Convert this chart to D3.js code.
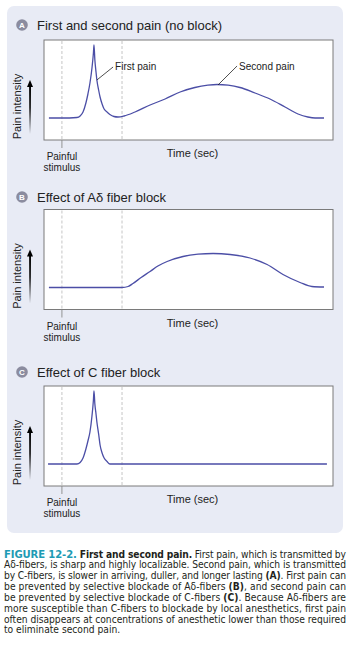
<!DOCTYPE html>
<html><head><meta charset="utf-8">
<script src="https://cdn.jsdelivr.net/npm/d3@7"></script>
<style>
html,body{margin:0;padding:0;background:#fff;}
svg{display:block;}
</style></head>
<body>
<script>
// ---------- data ----------
const panelLetters = ["A", "B", "C"];
const panelTitles = ["First and second pain (no block)", "Effect of A\u03b4 fiber block", "Effect of C fiber block"];

// time (arbitrary units 0-100) and pain intensity (0-100)
const timeA = [1.7, 6.2, 11.4, 12.5, 13.5, 14.5, 15.2, 15.9, 16.6, 17.1, 17.3, 17.6, 18.0, 18.3, 18.9, 19.4, 20.1, 20.8, 21.8, 22.8, 24.2, 25.6, 27.7, 31.5, 36.7, 41.9, 47.1, 52.2, 56.7, 59.9, 63.7, 67.8, 73.0, 78.2, 83.4, 87.9, 91.3, 93.8, 96.9];
const painA = [22, 22, 22.5, 24, 28, 37, 46, 57, 72, 87, 95, 80, 68, 60, 50, 43, 36, 31, 28, 25.5, 23.5, 23, 24, 28, 35, 41, 48, 52.5, 54.8, 55.5, 54.8, 52.5, 47, 41, 33, 26, 23, 22, 22];

const timeB = [1.7, 27.0, 29.1, 30.8, 33.6, 36.7, 39.4, 42.6, 48.1, 53.3, 58.5, 64.4, 71.3, 77.2, 82.7, 88.6, 92.7, 96.9];
const painB = [22, 22, 23, 26, 32, 38, 43.5, 48, 53, 55.3, 56, 55, 51.5, 45, 35, 27, 23, 22.5];

const timeC = [1.4, 11.4, 12.5, 13.5, 14.5, 15.2, 15.9, 16.6, 17.1, 17.3, 17.6, 18.0, 18.3, 18.9, 19.4, 20.1, 20.8, 21.8, 22.8, 97.9];
const painC = [22, 22, 23.5, 28, 37, 45, 54, 70, 86, 95, 82, 72, 64, 52, 41, 33, 28, 24.5, 22, 22];

const stimulusTime = 6.2;      // painful stimulus
const secondOnsetTime = 27.0;  // dashed marker (C-fiber arrival)

// annotations for panel A: [curve time, curve value, leader end time, leader end value, label time, label value]
const annotLabels = ["First pain", "Second pain"];
const annotPoints = [[18.3, 60, 23.9, 73, 24.6, 70], [60.2, 55, 66.8, 74, 67.5, 70]];

const captionLines = [
  [["FIGURE 12-2.", "fig"], [" First and second pain.", "b"], [" First pain, which is transmitted by", ""]],
  [["A\u03b4-fibers, is sharp and highly localizable. Second pain, which is transmitted", ""]],
  [["by C-fibers, is slower in arriving, duller, and longer lasting ", ""], ["(A)", "b"], [". First pain can", ""]],
  [["be prevented by selective blockade of A\u03b4-fibers ", ""], ["(B)", "b"], [", and second pain can", ""]],
  [["be prevented by selective blockade of C-fibers ", ""], ["(C)", "b"], [". Because A\u03b4-fibers are", ""]],
  [["more susceptible than C-fibers to blockade by local anesthetics, first pain", ""]],
  [["often disappears at concentrations of anesthetic lower than those required", ""]],
  [["to eliminate second pain.", ""]]
];

// ---------- layout ----------
const W = 350, H = 665;
const boxLeft = 44, boxRight = 333, boxH = 100;
const boxTops = [40, 209.5, 386];
const titleY = [25, 197, 372];
const curves = [[timeA, painA], [timeB, painB], [timeC, painC]];
const curveColor = "#4b4ea6";
const font = "'Liberation Sans', Arial, Helvetica, sans-serif";

const svg = d3.select("body").append("svg").attr("width", W).attr("height", H);

const defs = svg.append("defs");
const grad = defs.append("linearGradient").attr("id", "arrowGrad")
  .attr("x1", 0).attr("y1", 1).attr("x2", 0).attr("y2", 0);
grad.append("stop").attr("offset", "0%").attr("stop-color", "#000").attr("stop-opacity", 0);
grad.append("stop").attr("offset", "55%").attr("stop-color", "#000").attr("stop-opacity", 0.8);
grad.append("stop").attr("offset", "100%").attr("stop-color", "#000").attr("stop-opacity", 1);

// panel background
svg.append("rect").attr("x", 7).attr("y", 6).attr("width", 336).attr("height", 527)
  .attr("rx", 7).attr("fill", "#e8ebf5");

const x = d3.scaleLinear().domain([0, 100]).range([boxLeft, boxRight]);

panelLetters.forEach((L, i) => {
  const top = boxTops[i];
  const y = d3.scaleLinear().domain([0, 100]).range([top + boxH, top]);
  const g = svg.append("g");

  // title
  g.append("circle").attr("cx", 22).attr("cy", titleY[i]).attr("r", 5.8).attr("fill", "#8b8c9f");
  g.append("text").attr("x", 22).attr("y", titleY[i] + 3).attr("text-anchor", "middle")
    .attr("font-family", font).attr("font-weight", "bold").attr("font-size", 8).attr("fill", "#fff").text(L);
  g.append("text").attr("x", 37).attr("y", titleY[i] + 4.6)
    .attr("font-family", font).attr("font-size", 13).attr("fill", "#222").text(panelTitles[i]);

  // plot box
  g.append("rect").attr("x", boxLeft).attr("y", top).attr("width", boxRight - boxLeft).attr("height", boxH)
    .attr("fill", "#fff").attr("stroke", "#7a7a7a").attr("stroke-width", 1);

  // dashed markers
  [stimulusTime, secondOnsetTime].forEach(t => {
    g.append("line").attr("x1", x(t)).attr("x2", x(t)).attr("y1", top + 1).attr("y2", top + boxH - 1)
      .attr("stroke", "#b8b8b8").attr("stroke-width", 0.8).attr("stroke-dasharray", "3,2");
  });
  // stimulus tick
  g.append("line").attr("x1", x(stimulusTime)).attr("x2", x(stimulusTime))
    .attr("y1", top + boxH).attr("y2", top + boxH + 8).attr("stroke", "#888").attr("stroke-width", 0.9);

  g.append("text").attr("x", x(stimulusTime)).attr("y", top + boxH + 20).attr("text-anchor", "middle")
    .attr("font-family", font).attr("font-size", 10).attr("fill", "#222").text("Painful");
  g.append("text").attr("x", x(stimulusTime)).attr("y", top + boxH + 31).attr("text-anchor", "middle")
    .attr("font-family", font).attr("font-size", 10).attr("fill", "#222").text("stimulus");

  g.append("text").attr("x", (x(0) + x(100)) / 2 + 4).attr("y", top + boxH + 17).attr("text-anchor", "middle")
    .attr("font-family", font).attr("font-size", 11).attr("fill", "#222").text("Time (sec)");

  // y label
  g.append("text").attr("transform", `translate(21,${top + 66.5}) rotate(-90)`).attr("text-anchor", "middle")
    .attr("font-family", font).attr("font-size", 11).attr("fill", "#222").text("Pain intensity");

  // arrow
  g.append("rect").attr("x", 29.1).attr("y", top + 46).attr("width", 1.9).attr("height", boxH - 52)
    .attr("fill", "url(#arrowGrad)");
  g.append("path").attr("d", `M${30},${top + 40} L${33},${top + 47} L${27},${top + 47} Z`).attr("fill", "#000");

  // curve
  const [ts, vs] = curves[i];
  const pts = ts.map((t, k) => [t, vs[k]]);
  const line = d3.line().x(d => x(d[0])).y(d => y(d[1])).curve(d3.curveMonotoneX);
  g.append("path").attr("d", line(pts)).attr("fill", "none").attr("stroke", curveColor).attr("stroke-width", 1.3);

  if (i === 0) {
    annotPoints.forEach((a, k) => {
      g.append("line").attr("x1", x(a[0])).attr("y1", y(a[1])).attr("x2", x(a[2])).attr("y2", y(a[3]))
        .attr("stroke", "#222").attr("stroke-width", 0.8);
      g.append("text").attr("x", x(a[4])).attr("y", y(a[5]))
        .attr("font-family", font).attr("font-size", 10).attr("fill", "#222").text(annotLabels[k]);
    });
  }
});

// caption
const capFont = "'Liberation Sans Narrow', 'Arial Narrow', 'DejaVu Sans Condensed', sans-serif";
const capX0 = 4, capX1 = 346, capY0 = 557.5, capLH = 10.85;
captionLines.forEach((segs, li) => {
  const t = svg.append("text").attr("x", capX0).attr("y", capY0 + li * capLH)
    .attr("font-family", capFont).attr("font-stretch", "condensed").attr("font-size", 10.2).attr("fill", "#231f20")
    .attr("xml:space", "preserve").style("white-space", "pre");
  segs.forEach(s => {
    const sp = t.append("tspan").text(s[0]);
    if (s[1] === "b") sp.attr("font-weight", "bold");
    if (s[1] === "fig") sp.attr("fill", "#1e9bb4").attr("font-size", 11.2).attr("font-weight", "bold");
  });
  if (li < captionLines.length - 1) {
    t.attr("textLength", capX1 - capX0).attr("lengthAdjust", "spacing");
  }
});
</script>
</body></html>
